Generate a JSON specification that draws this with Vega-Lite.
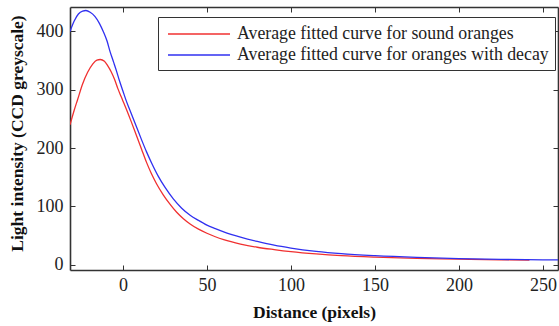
{
  "$schema": "https://vega.github.io/schema/vega-lite/v6.json",
  "width": 488,
  "height": 263,
  "autosize": {"type": "none"},
  "padding": {"left": 70, "top": 7, "right": 1, "bottom": 56},
  "background": "white",
  "config": {
    "view": {"stroke": null},
    "font": "Liberation Serif",
    "axis": {
      "grid": false,
      "domainColor": "#333333",
      "domainWidth": 1.6,
      "tickColor": "#333333",
      "tickWidth": 1,
      "tickSize": -5,
      "labelFont": "Liberation Serif",
      "labelFontSize": 18,
      "labelColor": "#222222",
      "titleFont": "Liberation Serif",
      "titleFontSize": 17.5,
      "titleFontWeight": "bold",
      "titleColor": "#111111"
    }
  },
  "data": {
    "values": [
      {"x": -31.5, "y": 240, "series": "Average fitted curve for sound oranges"},
      {"x": -29, "y": 265, "series": "Average fitted curve for sound oranges"},
      {"x": -27, "y": 283, "series": "Average fitted curve for sound oranges"},
      {"x": -24, "y": 310, "series": "Average fitted curve for sound oranges"},
      {"x": -21, "y": 330, "series": "Average fitted curve for sound oranges"},
      {"x": -18, "y": 344, "series": "Average fitted curve for sound oranges"},
      {"x": -15.5, "y": 351, "series": "Average fitted curve for sound oranges"},
      {"x": -13.5, "y": 352, "series": "Average fitted curve for sound oranges"},
      {"x": -11, "y": 349, "series": "Average fitted curve for sound oranges"},
      {"x": -9, "y": 341, "series": "Average fitted curve for sound oranges"},
      {"x": -7, "y": 331, "series": "Average fitted curve for sound oranges"},
      {"x": -5, "y": 318, "series": "Average fitted curve for sound oranges"},
      {"x": -3, "y": 302, "series": "Average fitted curve for sound oranges"},
      {"x": -1, "y": 288, "series": "Average fitted curve for sound oranges"},
      {"x": 0, "y": 281, "series": "Average fitted curve for sound oranges"},
      {"x": 2, "y": 267, "series": "Average fitted curve for sound oranges"},
      {"x": 5, "y": 245, "series": "Average fitted curve for sound oranges"},
      {"x": 8, "y": 222, "series": "Average fitted curve for sound oranges"},
      {"x": 11, "y": 199, "series": "Average fitted curve for sound oranges"},
      {"x": 14, "y": 176, "series": "Average fitted curve for sound oranges"},
      {"x": 17, "y": 156, "series": "Average fitted curve for sound oranges"},
      {"x": 20, "y": 139, "series": "Average fitted curve for sound oranges"},
      {"x": 24, "y": 120, "series": "Average fitted curve for sound oranges"},
      {"x": 28, "y": 104, "series": "Average fitted curve for sound oranges"},
      {"x": 32, "y": 90, "series": "Average fitted curve for sound oranges"},
      {"x": 36, "y": 79, "series": "Average fitted curve for sound oranges"},
      {"x": 40, "y": 70, "series": "Average fitted curve for sound oranges"},
      {"x": 45, "y": 61, "series": "Average fitted curve for sound oranges"},
      {"x": 50, "y": 54, "series": "Average fitted curve for sound oranges"},
      {"x": 55, "y": 48, "series": "Average fitted curve for sound oranges"},
      {"x": 60, "y": 43, "series": "Average fitted curve for sound oranges"},
      {"x": 70, "y": 35.5, "series": "Average fitted curve for sound oranges"},
      {"x": 80, "y": 30, "series": "Average fitted curve for sound oranges"},
      {"x": 90, "y": 26, "series": "Average fitted curve for sound oranges"},
      {"x": 100, "y": 22.5, "series": "Average fitted curve for sound oranges"},
      {"x": 115, "y": 18.5, "series": "Average fitted curve for sound oranges"},
      {"x": 130, "y": 15.5, "series": "Average fitted curve for sound oranges"},
      {"x": 150, "y": 13, "series": "Average fitted curve for sound oranges"},
      {"x": 175, "y": 11, "series": "Average fitted curve for sound oranges"},
      {"x": 200, "y": 9.7, "series": "Average fitted curve for sound oranges"},
      {"x": 225, "y": 8.5, "series": "Average fitted curve for sound oranges"},
      {"x": 242, "y": 8, "series": "Average fitted curve for sound oranges"},
      {"x": -31.5, "y": 400, "series": "Average fitted curve for oranges with decay"},
      {"x": -29, "y": 418, "series": "Average fitted curve for oranges with decay"},
      {"x": -26.5, "y": 430, "series": "Average fitted curve for oranges with decay"},
      {"x": -24, "y": 435, "series": "Average fitted curve for oranges with decay"},
      {"x": -22, "y": 436, "series": "Average fitted curve for oranges with decay"},
      {"x": -19.5, "y": 433, "series": "Average fitted curve for oranges with decay"},
      {"x": -16.7, "y": 426, "series": "Average fitted curve for oranges with decay"},
      {"x": -14, "y": 414, "series": "Average fitted curve for oranges with decay"},
      {"x": -11.7, "y": 400, "series": "Average fitted curve for oranges with decay"},
      {"x": -9.5, "y": 384, "series": "Average fitted curve for oranges with decay"},
      {"x": -7.7, "y": 366, "series": "Average fitted curve for oranges with decay"},
      {"x": -5.5, "y": 347, "series": "Average fitted curve for oranges with decay"},
      {"x": -3.8, "y": 332, "series": "Average fitted curve for oranges with decay"},
      {"x": -2, "y": 315, "series": "Average fitted curve for oranges with decay"},
      {"x": 0, "y": 298, "series": "Average fitted curve for oranges with decay"},
      {"x": 2, "y": 281, "series": "Average fitted curve for oranges with decay"},
      {"x": 5, "y": 259, "series": "Average fitted curve for oranges with decay"},
      {"x": 8, "y": 237, "series": "Average fitted curve for oranges with decay"},
      {"x": 11, "y": 215, "series": "Average fitted curve for oranges with decay"},
      {"x": 14, "y": 194, "series": "Average fitted curve for oranges with decay"},
      {"x": 17, "y": 175, "series": "Average fitted curve for oranges with decay"},
      {"x": 21, "y": 152, "series": "Average fitted curve for oranges with decay"},
      {"x": 25, "y": 133, "series": "Average fitted curve for oranges with decay"},
      {"x": 30, "y": 113, "series": "Average fitted curve for oranges with decay"},
      {"x": 35, "y": 97, "series": "Average fitted curve for oranges with decay"},
      {"x": 40, "y": 85, "series": "Average fitted curve for oranges with decay"},
      {"x": 45, "y": 76, "series": "Average fitted curve for oranges with decay"},
      {"x": 50, "y": 68, "series": "Average fitted curve for oranges with decay"},
      {"x": 55, "y": 62, "series": "Average fitted curve for oranges with decay"},
      {"x": 60, "y": 56.5, "series": "Average fitted curve for oranges with decay"},
      {"x": 70, "y": 47.5, "series": "Average fitted curve for oranges with decay"},
      {"x": 80, "y": 40, "series": "Average fitted curve for oranges with decay"},
      {"x": 90, "y": 33.5, "series": "Average fitted curve for oranges with decay"},
      {"x": 100, "y": 28.6, "series": "Average fitted curve for oranges with decay"},
      {"x": 115, "y": 23, "series": "Average fitted curve for oranges with decay"},
      {"x": 130, "y": 19, "series": "Average fitted curve for oranges with decay"},
      {"x": 150, "y": 15.5, "series": "Average fitted curve for oranges with decay"},
      {"x": 175, "y": 12.5, "series": "Average fitted curve for oranges with decay"},
      {"x": 200, "y": 10.5, "series": "Average fitted curve for oranges with decay"},
      {"x": 225, "y": 9.2, "series": "Average fitted curve for oranges with decay"},
      {"x": 250, "y": 8.5, "series": "Average fitted curve for oranges with decay"},
      {"x": 259, "y": 8.3, "series": "Average fitted curve for oranges with decay"}
    ]
  },
  "layer": [
    {
      "mark": {"type": "line", "strokeWidth": 1.3, "interpolate": "monotone", "clip": true},
      "encoding": {
        "x": {
          "field": "x",
          "type": "quantitative",
          "scale": {"domain": [-31.5, 259], "nice": false, "zero": false},
          "axis": {
            "orient": "bottom",
            "values": [0, 50, 100, 150, 200, 250],
            "title": "Distance (pixels)",
            "labelPadding": 11,
            "titleY": 47,
            "titleBaseline": "alphabetic"
          }
        },
        "y": {
          "field": "y",
          "type": "quantitative",
          "scale": {"domain": [-9, 442], "nice": false, "zero": false},
          "axis": {
            "orient": "left",
            "values": [0, 100, 200, 300, 400],
            "title": "Light intensity (CCD greyscale)",
            "labelPadding": 12,
            "titleX": -53,
            "titleY": 126,
            "titleBaseline": "middle",
            "titleAngle": -90
          }
        },
        "color": {
          "field": "series",
          "type": "nominal",
          "sort": ["Average fitted curve for sound oranges", "Average fitted curve for oranges with decay"],
          "scale": {
            "domain": ["Average fitted curve for sound oranges", "Average fitted curve for oranges with decay"],
            "range": ["#f03030", "#3030f0"]
          },
          "legend": {
            "title": null,
            "orient": "none",
            "legendX": 88,
            "legendY": 10,
            "direction": "vertical",
            "strokeColor": "#333333",
            "fillColor": "white",
            "padding": 6,
            "symbolType": "M-0.7,0H5.5",
            "symbolSize": 400,
            "symbolStrokeWidth": 1.3,
            "labelOffset": 51,
            "labelFont": "Liberation Serif",
            "labelFontSize": 17.8,
            "labelColor": "#222222",
            "labelLimit": 400,
            "rowPadding": 1
          }
        }
      }
    },
    {
      "mark": {"type": "line", "opacity": 0},
      "encoding": {
        "x": {
          "field": "x",
          "type": "quantitative",
          "axis": {"orient": "top", "values": [0, 50, 100, 150, 200, 250], "labels": false, "title": null}
        },
        "y": {
          "field": "y",
          "type": "quantitative",
          "axis": {"orient": "right", "values": [0, 100, 200, 300, 400], "labels": false, "title": null}
        },
        "detail": {"field": "series", "type": "nominal"}
      }
    }
  ],
  "resolve": {"axis": {"x": "independent", "y": "independent"}}
}
